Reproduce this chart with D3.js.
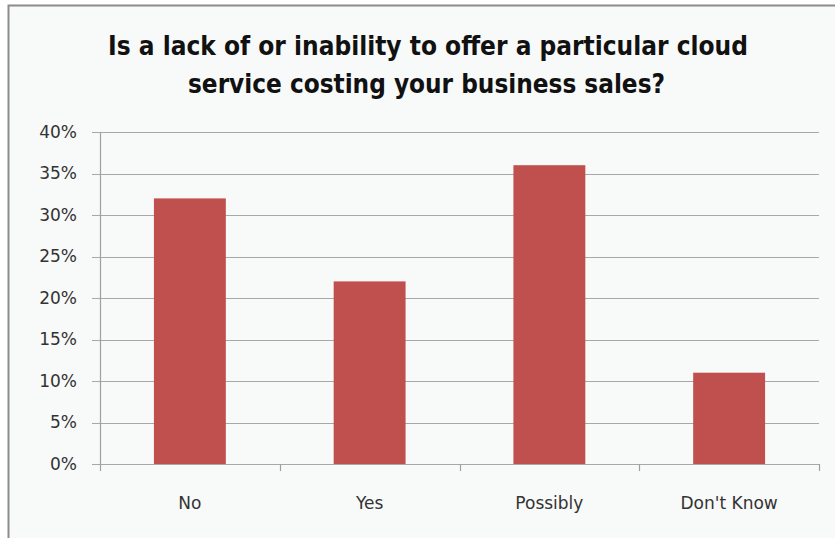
<!DOCTYPE html>
<html>
<head>
<meta charset="utf-8">
<script src="https://cdn.jsdelivr.net/npm/d3@7"></script>
<style>
  body { margin: 0; background: #fff; }
  .axis text { font-family: "DejaVu Sans", sans-serif; font-size: 17px; fill: #333; }
</style>
</head>
<body>
<div id="chart"></div>
<script>
const categories = ['No', 'Yes', 'Possibly', "Don't Know"]
const shares = [0.32, 0.22, 0.36, 0.11]
const yTicks = [0, 0.05, 0.10, 0.15, 0.20, 0.25, 0.30, 0.35, 0.40]
const titleLines = [
  'Is a lack of or inability to offer a particular cloud',
  'service costing your business sales?'
]

const dimensions = {
  width: 835,
  height: 538,
  margin: { top: 132, bottom: 74, left: 100, right: 16 }
}
dimensions.ctrWidth = dimensions.width - dimensions.margin.left - dimensions.margin.right
dimensions.ctrHeight = dimensions.height - dimensions.margin.top - dimensions.margin.bottom

const svg = d3.select('#chart')
  .append('svg')
  .attr('width', dimensions.width)
  .attr('height', dimensions.height)

// frame
svg.append('rect')
  .attr('x', 8.5)
  .attr('y', 5.5)
  .attr('width', dimensions.width + 10)
  .attr('height', dimensions.height + 10)
  .attr('fill', '#f8f9f9')
  .attr('stroke', '#8c8c8c')
  .attr('stroke-width', 2)

// title
svg.append('g')
  .selectAll('text')
  .data(titleLines)
  .join('text')
  .attr('x', (d, i) => i === 0 ? 108 : 188)
  .attr('y', (d, i) => 55 + i * 38)
  .attr('textLength', (d, i) => i === 0 ? 640 : 477)
  .attr('lengthAdjust', 'spacingAndGlyphs')
  .style('font-family', '"Liberation Sans Narrow", "DejaVu Sans Condensed", sans-serif')
  .style('font-weight', 'bold')
  .style('font-size', '27px')
  .style('fill', '#111')
  .text(d => d)

const ctr = svg.append('g')
  .attr('transform', `translate(${dimensions.margin.left}, ${dimensions.margin.top})`)

// Scales
const xScale = d3.scaleBand()
  .domain(categories)
  .range([0, dimensions.ctrWidth])
  .paddingInner(0.6)
  .paddingOuter(0.3)

const yScale = d3.scaleLinear()
  .domain([0, 0.4])
  .range([dimensions.ctrHeight, 0])

// gridlines
ctr.append('g')
  .selectAll('line')
  .data(yTicks)
  .join('line')
  .attr('x1', -8)
  .attr('x2', dimensions.ctrWidth)
  .attr('y1', d => Math.round(yScale(d)) + 0.5)
  .attr('y2', d => Math.round(yScale(d)) + 0.5)
  .attr('stroke', '#a8a8a8')
  .attr('stroke-width', 1.2)

// bars
ctr.selectAll('rect.bar')
  .data(categories)
  .join('rect')
  .classed('bar', true)
  .attr('x', d => xScale(d))
  .attr('width', xScale.bandwidth())
  .attr('y', (d, i) => yScale(shares[i]))
  .attr('height', (d, i) => dimensions.ctrHeight - yScale(shares[i]))
  .attr('fill', '#c0504d')

// Axes
const yAxis = d3.axisLeft(yScale)
  .tickValues(yTicks)
  .tickFormat(d3.format('.0%'))
  .tickSize(0)
  .tickPadding(23)

const yAxisGroup = ctr.append('g')
  .call(yAxis)
  .classed('axis', true)
yAxisGroup.select('.domain')
  .attr('stroke', '#a0a0a0')
  .attr('stroke-width', 1.2)

const xAxis = d3.axisBottom(xScale)
  .tickSize(0)
  .tickPadding(33)

const xAxisGroup = ctr.append('g')
  .call(xAxis)
  .attr('transform', `translate(0, ${dimensions.ctrHeight})`)
  .classed('axis', true)
xAxisGroup.select('.domain').remove()

// category boundary ticks
const step = dimensions.ctrWidth / categories.length
xAxisGroup.append('g')
  .selectAll('line')
  .data(d3.range(categories.length + 1))
  .join('line')
  .attr('x1', i => Math.round(i * step) + 0.5)
  .attr('x2', i => Math.round(i * step) + 0.5)
  .attr('y1', 0)
  .attr('y2', 7)
  .attr('stroke', '#a0a0a0')
  .attr('stroke-width', 1.2)
</script>
</body>
</html>
